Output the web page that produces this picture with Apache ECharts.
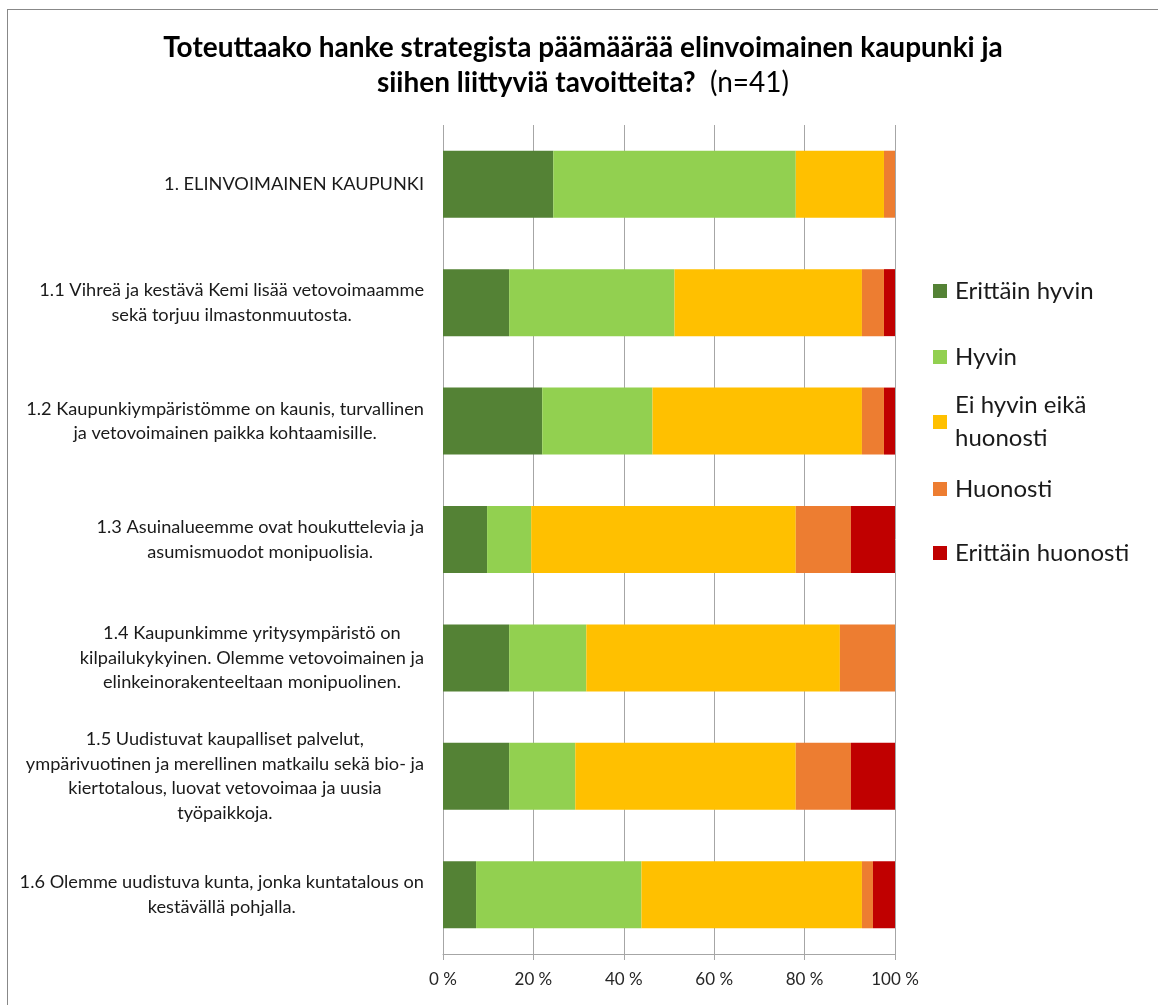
<!DOCTYPE html>
<html>
<head>
<meta charset="utf-8">
<script src="https://cdn.jsdelivr.net/npm/echarts@6/dist/echarts.min.js"></script>
<style>
  html, body { margin: 0; padding: 0; background: #fff; }
  #frame {
    position: absolute; left: 7px; top: 9px;
    border-left: 1px solid #888; border-top: 1px solid #888;
  }
  #chart { width: 1150px; height: 995px; }
</style>
</head>
<body>
<div id="frame"><div id="chart"></div></div>
<script>
// vastaajia yhteensä
const n = 41;

const categories = [
  "1. ELINVOIMAINEN KAUPUNKI",
  "1.1 Vihreä ja kestävä Kemi lisää vetovoimaamme\nsekä torjuu ilmastonmuutosta.",
  "1.2 Kaupunkiympäristömme on kaunis, turvallinen\nja vetovoimainen paikka kohtaamisille.",
  "1.3 Asuinalueemme ovat houkuttelevia ja\nasumismuodot monipuolisia.",
  "1.4 Kaupunkimme yritysympäristö on\nkilpailukykyinen. Olemme vetovoimainen ja\nelinkeinorakenteeltaan monipuolinen.",
  "1.5 Uudistuvat kaupalliset palvelut,\nympärivuotinen ja merellinen matkailu sekä bio- ja\nkiertotalous, luovat vetovoimaa ja uusia\ntyöpaikkoja.",
  "1.6 Olemme uudistuva kunta, jonka kuntatalous on\nkestävällä pohjalla."
];

// vastausten lukumäärät (n=41)
const erittainHyvin   = [10, 6, 9, 4, 6, 6, 3];
const hyvin           = [22, 15, 10, 4, 7, 6, 15];
const eiHyvinEikaHuon = [8, 17, 19, 24, 23, 20, 20];
const huonosti        = [1, 2, 2, 5, 5, 5, 1];
const erittainHuon    = [0, 1, 1, 4, 0, 4, 2];

const seriesNames = ["Erittäin hyvin", "Hyvin", "Ei hyvin eikä huonosti", "Huonosti", "Erittäin huonosti"];
const seriesColors = ["#548235", "#92D050", "#FFC000", "#ED7D31", "#C00000"];
const seriesValues = [erittainHyvin, hyvin, eiHyvinEikaHuon, huonosti, erittainHuon];

const xTicks = [0, 20, 40, 60, 80, 100];

const FONT = "Lato";

const myChart = echarts.init(document.getElementById("chart"));

const legendBase = {
  orient: "vertical",
  left: 925,
  padding: 0,
  itemWidth: 14,
  itemHeight: 14,
  icon: "rect",
  selectedMode: false,
  textStyle: { fontFamily: FONT, fontSize: 24, color: "#1a1a1a", lineHeight: 33, padding: [0, 0, 0, 3] }
};

const option = {
  animation: false,
  title: {
    left: "center",
    top: 20,
    padding: 0,
    text: "{b|Toteuttaako hanke strategista päämäärää elinvoimainen kaupunki ja}\n{b|siihen liittyviä tavoitteita?}{n|  (n=41)}",
    textStyle: {
      rich: {
        b: { fontFamily: FONT, fontSize: 28, fontWeight: "bold", color: "#000", lineHeight: 35 },
        n: { fontFamily: FONT, fontSize: 28, fontWeight: "normal", color: "#000", lineHeight: 35 }
      }
    }
  },
  legend: [
    Object.assign({}, legendBase, { top: 264.5, itemGap: 33, data: [seriesNames[0], seriesNames[1]] }),
    Object.assign({}, legendBase, {
      top: 362.5,
      data: [seriesNames[2]],
      formatter: () => "Ei hyvin eikä\nhuonosti",
      textStyle: Object.assign({}, legendBase.textStyle, { padding: [33, 0, 0, 3] })
    }),
    Object.assign({}, legendBase, { top: 462.5, itemGap: 31, data: [seriesNames[3], seriesNames[4]] })
  ],
  grid: { left: 435, right: 263, top: 115, bottom: 51 },
  xAxis: {
    type: "value",
    min: xTicks[0],
    max: xTicks[xTicks.length - 1],
    interval: xTicks[1] - xTicks[0],
    axisLine: { show: true, lineStyle: { color: "#A6A6A6", width: 1 } },
    axisTick: { show: true, length: 6, lineStyle: { color: "#A6A6A6" } },
    splitLine: { show: true, lineStyle: { color: "#A6A6A6", width: 1 } },
    axisLabel: {
      formatter: "{value} %",
      fontFamily: FONT, fontSize: 17, color: "#262626", margin: 17
    }
  },
  yAxis: {
    type: "category",
    inverse: true,
    data: categories,
    axisLine: { show: false },
    axisTick: { show: false },
    axisLabel: {
      margin: 19,
      formatter: (v) => v.split("\n").map((l) => "{c|" + l + "}").join("\n"),
      rich: {
        c: { align: "center", fontFamily: FONT, fontSize: 18.2, lineHeight: 24.5, color: "#1a1a1a" }
      }
    }
  },
  series: seriesNames.map((name, i) => ({
    name: name,
    type: "bar",
    stack: "total",
    barWidth: 67,
    itemStyle: { color: seriesColors[i] },
    data: seriesValues[i].map((v) => (v / n) * 100)
  }))
};

myChart.setOption(option);
</script>
</body>
</html>
